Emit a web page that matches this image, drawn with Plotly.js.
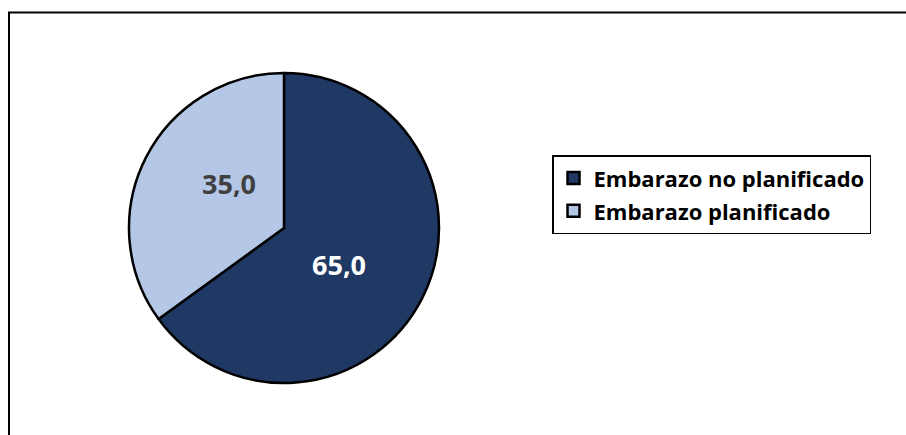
<!DOCTYPE html>
<html>
<head>
<meta charset="utf-8">
<script src="https://cdn.plot.ly/plotly-3.0.1.min.js"></script>
<style>html,body{margin:0;padding:0;background:#fff;}#chart{width:906px;height:435px;}</style>
</head>
<body>
<div id="chart"></div>
<script>
var categories = ["Embarazo no planificado", "Embarazo planificado"];
var values = [65.0, 35.0];
var valueLabels = ["65,0", "35,0"];
var sliceColors = ["#1F3864", "#B4C7E7"];
var labelColors = ["#FFFFFF", "#404040"];

var W = 906, H = 435;
var cx = 284, cy = 228, R = 155;
var FONT = "'Open Sans', Lato, sans-serif";

var legendLabels = categories.map(function (c) {
  return '<span style="font-size:22px">' + c + '</span>';
});

var trace = {
  type: "pie",
  labels: legendLabels,
  values: values,
  textinfo: "none",
  sort: false,
  direction: "clockwise",
  rotation: 0,
  marker: {colors: sliceColors, line: {color: "#000000", width: 2.5}},
  domain: {x: [(cx - R) / W, (cx + R) / W], y: [(H - cy - R) / H, (H - cy + R) / H]},
  hoverinfo: "label+value"
};

// value labels placed from the data: angle of slice middle, measured clockwise from 12 o'clock
var total = values.reduce(function (a, b) { return a + b; }, 0);
var annotations = [];
var cum = 0;
for (var i = 0; i < values.length; i++) {
  var mid = (cum + values[i] / 2) / total * 360 + 9;
  cum += values[i];
  var a = mid * Math.PI / 180;
  var px = cx + 0.44 * R * Math.sin(a);
  var py = cy - 0.44 * R * Math.cos(a);
  annotations.push({
    xref: "paper", yref: "paper",
    x: px / W, y: (H - py) / H,
    xanchor: "center", yanchor: "middle", yshift: 4,
    text: valueLabels[i], showarrow: false,
    font: {family: FONT, size: 27, color: labelColors[i], weight: "bold"}
  });
}

var layout = {
  width: W, height: H,
  margin: {l: 0, r: 0, t: 0, b: 0},
  paper_bgcolor: "#ffffff",
  showlegend: true,
  legend: {
    x: 552 / W, y: (H - 155) / H, xanchor: "left", yanchor: "top",
    bordercolor: "#000000", borderwidth: 1.5, bgcolor: "#ffffff",
    font: {family: FONT, size: 23, color: "#000000", weight: "bold"},
    tracegroupgap: 0
  },
  annotations: annotations,
  shapes: [{
    type: "rect", xref: "paper", yref: "paper",
    x0: 9 / W, x1: 1.05, y0: -0.05, y1: (H - 12.5) / H,
    line: {color: "#000000", width: 2}, fillcolor: "rgba(0,0,0,0)"
  }]
};

Plotly.newPlot("chart", [trace], layout, {displayModeBar: false, staticPlot: true});
</script>
</body>
</html>
